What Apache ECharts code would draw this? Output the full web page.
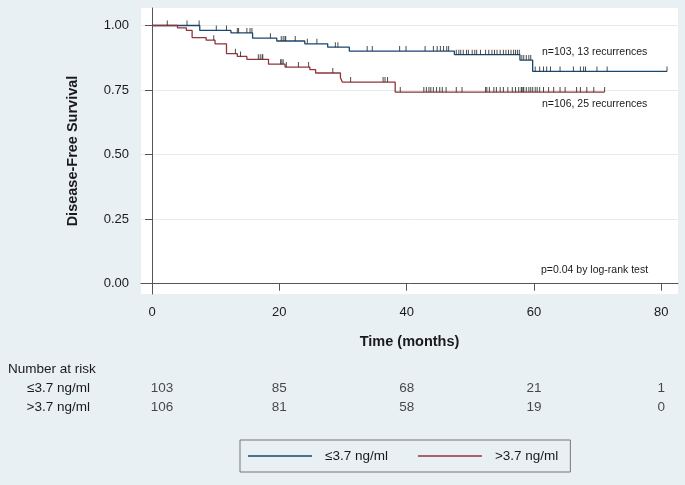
<!DOCTYPE html>
<html>
<head>
<meta charset="utf-8">
<script src="https://cdn.jsdelivr.net/npm/echarts@6/dist/echarts.min.js"></script>
<style>
  html, body { margin: 0; padding: 0; background: #e9f0f3; }
  #chart { width: 685px; height: 485px; }
</style>
</head>
<body>
<div id="chart"></div>
<script>
// Kaplan-Meier steps [months, survival]
const lowSteps = [[0, 1], [7.5, 0.981], [12.4, 0.971], [15.8, 0.951], [19.6, 0.940], [24.0, 0.929],
  [27.6, 0.916], [31.0, 0.901], [47.5, 0.887], [57.8, 0.866], [59.8, 0.822], [80.9, 0.822]];
const highSteps = [[0, 1], [4.0, 0.991], [5.4, 0.981], [6.3, 0.953], [8.5, 0.943], [9.9, 0.929],
  [11.7, 0.891], [13.4, 0.880], [14.9, 0.869], [18.3, 0.850], [20.9, 0.839], [24.8, 0.829],
  [25.7, 0.816], [29.6, 0.798], [29.9, 0.781], [38.2, 0.742], [71.1, 0.742]];

// censoring times
const lowCens = [2.4, 5.5, 7.4, 10.1, 11.7, 13.4, 13.6, 14.9, 15.4, 15.7, 18.6, 20.3, 20.6, 20.9, 21.0,
  22.5, 24.4, 25.9, 28.8, 29.2, 33.8, 34.6, 38.9, 39.9, 42.9, 44.2, 44.8, 45.3, 45.8, 46.3, 46.6,
  47.8, 48.2, 48.5, 48.9, 49.4, 49.7, 50.3, 50.7, 51.0, 51.6, 52.4, 52.9, 53.4, 53.8, 54.2, 54.7,
  55.2, 55.6, 56.0, 56.4, 56.8, 57.1, 57.4, 57.7, 58.1, 58.4, 58.8, 59.2, 59.5,
  60.2, 60.9, 61.5, 62.0, 62.6, 64.1, 66.2, 67.3, 67.8, 68.1, 69.9, 71.5, 80.9];
const highCens = [9.7, 13.1, 13.9, 16.7, 17.0, 17.3, 17.4, 20.2, 20.4, 20.6, 21.1, 23.0, 24.6, 28.4,
  31.2, 36.3, 36.6, 37.0, 39.0, 42.7, 43.1, 43.5, 43.8, 44.2, 44.7, 45.2, 45.6, 46.2, 47.8, 48.7,
  52.4, 52.6, 53.0, 53.7, 54.1, 54.7, 55.2, 55.9, 56.6, 57.1, 57.6, 58.0, 58.1, 58.3, 58.4, 58.8,
  59.2, 59.5, 59.8, 60.2, 60.5, 60.9, 61.5, 62.3, 63.1, 64.1, 64.9, 66.7, 67.3, 68.3, 69.4, 71.1];

// number at risk
const riskTimes = [0, 20, 40, 60, 80];
const riskLow = [103, 85, 68, 21, 1];
const riskHigh = [106, 81, 58, 19, 0];
const groups = ['≤3.7 ng/ml', '>3.7 ng/ml'];

const xTicks = [0, 20, 40, 60, 80];
const yTicks = [0, 0.25, 0.5, 0.75, 1];

const blue = '#1a476f';
const red = '#90353b';
const font = 'Liberation Sans, Arial, sans-serif';

function survAt(steps, t) {
  let s = steps[0][1];
  for (const p of steps) { if (p[0] <= t) s = p[1]; }
  return s;
}

function riskRow(vals, name) {
  return vals.map((v, i) => ({
    value: [riskTimes[i], name, v],
    label: { offset: [i === 0 ? 10 : 0, 0] }
  }));
}

const chart = echarts.init(document.getElementById('chart'), null, { renderer: 'canvas' });

const censStyle = {
  type: 'scatter',
  symbol: 'rect',
  symbolSize: [1, 5],
  symbolOffset: [0, -2.5],
  itemStyle: { color: '#2b2b2b', opacity: 0.85 },
  silent: true,
  z: 3
};

const option = {
  backgroundColor: '#e9f0f3',
  animation: false,
  textStyle: { fontFamily: font },
  grid: [
    { left: 141, right: 7, top: 8, bottom: 191, show: true, backgroundColor: '#fff', borderWidth: 0 },
    { left: 141, right: 7, top: 379, height: 38 }
  ],
  xAxis: [{
    type: 'value', gridIndex: 0, min: -1.73, max: 82.63,
    axisLine: { show: true, lineStyle: { color: '#555', width: 1 } },
    axisTick: { show: true, length: 7, customValues: xTicks, lineStyle: { color: '#555' } },
    axisLabel: { customValues: xTicks, margin: 12, fontSize: 13, color: '#1a1a1a' },
    splitLine: { show: false },
    name: 'Time (months)', nameLocation: 'middle', nameGap: 40,
    nameTextStyle: { fontSize: 14.5, fontWeight: 'bold', color: '#1a1a1a' }
  }, {
    type: 'value', gridIndex: 1, min: -1.73, max: 82.63, show: false
  }],
  yAxis: [{
    type: 'value', gridIndex: 0, min: -0.0398, max: 1.0677,
    axisLine: { show: true, lineStyle: { color: '#555', width: 1 } },
    axisTick: { show: true, length: 7, customValues: yTicks, lineStyle: { color: '#555' } },
    axisLabel: { customValues: yTicks, margin: 12, fontSize: 13, color: '#1a1a1a',
      formatter: v => v.toFixed(2) },
    splitLine: { show: true, lineStyle: { color: '#e4ecef', width: 1 } },
    name: 'Disease-Free Survival', nameLocation: 'middle', nameGap: 61,
    nameTextStyle: { fontSize: 14.5, fontWeight: 'bold', color: '#1a1a1a' }
  }, {
    type: 'category', gridIndex: 1, data: groups, inverse: true,
    axisLine: { show: false }, axisTick: { show: false }, splitLine: { show: false },
    axisLabel: { margin: 51, fontSize: 13.5, color: '#1a1a1a' }
  }],
  legend: {
    data: groups,
    left: 240, top: 440,
    padding: [9, 12, 9, 8],
    icon: 'rect',
    itemWidth: 64, itemHeight: 1.3, itemGap: 30,
    borderColor: '#777', borderWidth: 1,
    textStyle: { fontSize: 13.5, color: '#1a1a1a', padding: [0, 0, 0, 8] }
  },
  series: [{
    name: groups[0], type: 'line', step: 'end', symbol: 'none',
    data: lowSteps, lineStyle: { color: blue, width: 1.3 }, itemStyle: { color: blue }, z: 2
  }, {
    name: groups[1], type: 'line', step: 'end', symbol: 'none',
    data: highSteps, lineStyle: { color: red, width: 1.3 }, itemStyle: { color: red }, z: 2
  }, Object.assign({ name: 'cens-low', data: lowCens.map(t => [t, survAt(lowSteps, t)]) }, censStyle),
  Object.assign({ name: 'cens-high', data: highCens.map(t => [t, survAt(highSteps, t)]) }, censStyle),
  {
    name: 'risk-low', type: 'scatter', xAxisIndex: 1, yAxisIndex: 1,
    symbolSize: 1, itemStyle: { color: 'rgba(0,0,0,0)' }, silent: true,
    label: { show: true, position: 'inside', fontSize: 13.5, color: '#1a1a1a', formatter: p => p.value[2] },
    data: riskRow(riskLow, groups[0])
  }, {
    name: 'risk-high', type: 'scatter', xAxisIndex: 1, yAxisIndex: 1,
    symbolSize: 1, itemStyle: { color: 'rgba(0,0,0,0)' }, silent: true,
    label: { show: true, position: 'inside', fontSize: 13.5, color: '#1a1a1a', formatter: p => p.value[2] },
    data: riskRow(riskHigh, groups[1])
  }],
  graphic: [
    { type: 'text', left: 542, top: 47, style: { text: 'n=103, 13 recurrences', font: '10.5px ' + font, fill: '#1a1a1a' } },
    { type: 'text', left: 542, top: 99, style: { text: 'n=106, 25 recurrences', font: '10.5px ' + font, fill: '#1a1a1a' } },
    { type: 'text', left: 541, top: 265, style: { text: 'p=0.04 by log-rank test', font: '10.5px ' + font, fill: '#1a1a1a' } },
    { type: 'text', left: 8, top: 362, style: { text: 'Number at risk', font: '13.5px ' + font, fill: '#1a1a1a' } }
  ]
};

chart.setOption(option);
</script>
</body>
</html>
